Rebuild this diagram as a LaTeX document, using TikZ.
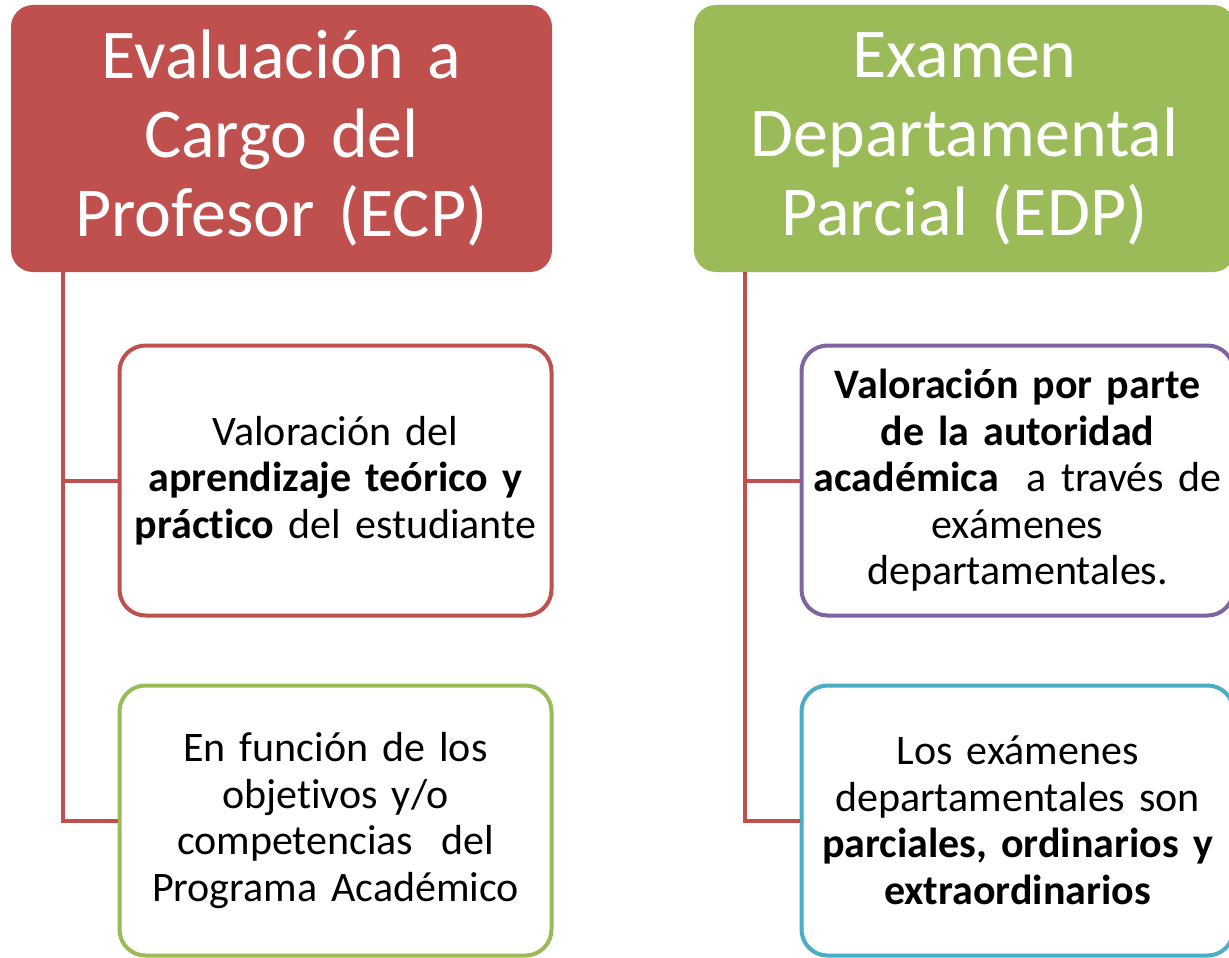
\documentclass[tikz,border=0pt]{standalone}
\usepackage{fontspec}
\setmainfont{Carlito}[RawFeature=-liga]
\definecolor{cred}{HTML}{C0504D}
\definecolor{cgreen}{HTML}{9BBB59}
\definecolor{cpurple}{HTML}{8064A2}
\definecolor{cblue}{HTML}{4BACC6}
\begin{document}
\begin{tikzpicture}[x=1pt,y=-1pt,
  header/.style={rounded corners=22pt, minimum width=541pt, minimum height=267pt,
    text width=530pt, align=center, text=white, inner sep=0pt,
    font=\fontsize{70}{79}\selectfont},
  item/.style={rounded corners=26pt, line width=4pt, fill=white, minimum width=432pt,
    minimum height=270pt, text width=420pt, align=center, inner sep=0pt,
    font=\fontsize{42}{46.5}\selectfont},
  link/.style={draw=cred, line width=4pt}]
\useasboundingbox (0,0) rectangle (1229,958);
\clip (0,0) rectangle (1229,958);
\fill[white] (0,0) rectangle (1229,958);
\node[header, fill=cred] (h1) at (281.5,138.5) {Evaluación a\\Cargo del\\Profesor (ECP)};
\node[header, fill=cgreen] (h2) at (964.5,138.5) {Examen\\Departamental\\Parcial (EDP)};
\node[item, draw=cred] (b1) at (335.5,480.5) {Valoración del\\\textbf{aprendizaje teórico y}\\\textbf{práctico} del estudiante};
\node[item, draw=cgreen] (b2) at (335.5,820.5) {En función de los\\objetivos y/o\\competencias\ \ del\\Programa Académico};
\node[item, draw=cpurple] (b3) at (1017.5,480.5) {\textbf{Valoración por parte}\\\textbf{de la autoridad}\\\textbf{académica}\ \ a través de\\exámenes\\departamentales.};
\node[item, draw=cblue] (b4) at (1017.5,820.5) {Los exámenes\\departamentales son\\\textbf{parciales, ordinarios y}\\\textbf{extraordinarios}};
\coordinate (t1) at (63,272);
\coordinate (t2) at (745,272);
\draw[link] (t1) |- (b2.west);
\draw[link] (t1 |- b1.west) -- (b1.west);
\draw[link] (t2) |- (b4.west);
\draw[link] (t2 |- b3.west) -- (b3.west);
\end{tikzpicture}
\end{document}
